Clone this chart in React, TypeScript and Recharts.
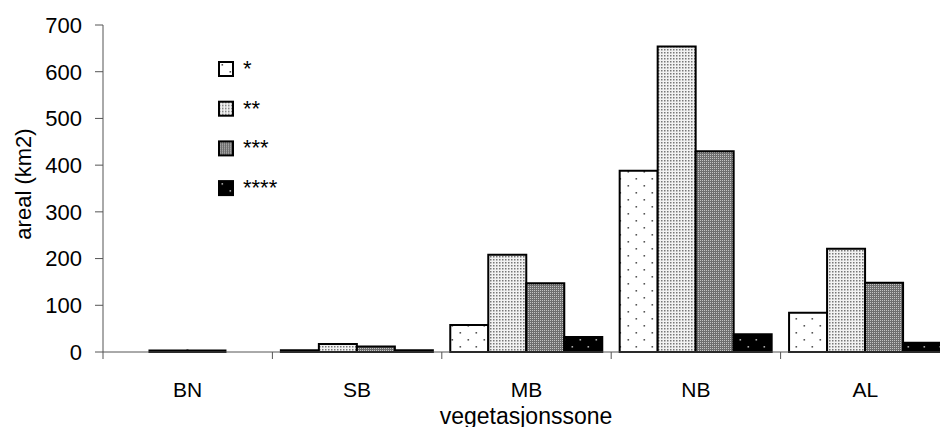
import { BarChart, Bar, XAxis, YAxis } from 'recharts';

const categories = ['BN', 'SB', 'MB', 'NB', 'AL'];
const seriesNames = ['*', '**', '***', '****'];
const oneStar = [0, 4, 58, 388, 84];
const twoStars = [3, 17, 208, 654, 221];
const threeStars = [3, 12, 147, 430, 148];
const fourStars = [0, 4, 32, 38, 20];
const yTicks = [0, 100, 200, 300, 400, 500, 600, 700];

const patternIds = ['pat1', 'pat2', 'pat3', 'pat4'];

const chartData = categories.map((name, i) => ({
  name,
  s1: oneStar[i],
  s2: twoStars[i],
  s3: threeStars[i],
  s4: fourStars[i],
}));

const font = '"Liberation Sans", Arial, sans-serif';
const labelGap = 30;

function Patterns() {
  return (
    <svg width={0} height={0} style={{ position: 'absolute' }}>
      <defs>
        <pattern id="pat1" width={16} height={14} patternUnits="userSpaceOnUse">
          <rect width={16} height={14} fill="#ffffff" />
          <rect x={3.5} y={3} width={1.6} height={1.6} fill="#555555" />
          <rect x={11.5} y={10} width={1.6} height={1.6} fill="#555555" />
        </pattern>
        <pattern id="pat2" width={3} height={3} patternUnits="userSpaceOnUse">
          <rect width={3} height={3} fill="#f2f2f2" />
          <rect x={1} y={1} width={1.5} height={1.5} fill="#777777" />
        </pattern>
        <pattern id="pat3" width={2} height={2} patternUnits="userSpaceOnUse">
          <rect width={2} height={2} fill="#6e6e6e" />
          <rect x={0} y={0} width={1} height={1} fill="#c4c4c4" />
        </pattern>
        <pattern id="pat4" width={16} height={14} patternUnits="userSpaceOnUse">
          <rect width={16} height={14} fill="#000000" />
          <rect x={3.5} y={3} width={1.6} height={1.6} fill="#aaaaaa" />
          <rect x={11.5} y={10} width={1.6} height={1.6} fill="#aaaaaa" />
        </pattern>
      </defs>
    </svg>
  );
}

// category label plus the little tick marks at the category boundaries
function CategoryTick(props: any) {
  const { x, y, payload, index, width, visibleTicksCount } = props;
  const band = width && visibleTicksCount ? width / visibleTicksCount : 169.4;
  const axisY = y - labelGap;
  const last = index === visibleTicksCount - 1;
  return (
    <g>
      <line x1={x - band / 2} x2={x - band / 2} y1={axisY} y2={axisY + 7} stroke="#555" />
      {last && <line x1={x + band / 2} x2={x + band / 2} y1={axisY} y2={axisY + 7} stroke="#555" />}
      <text x={x} y={y} dy="0.71em" textAnchor="middle" fontSize={21} fontFamily={font} fill="#000">
        {payload.value}
      </text>
    </g>
  );
}

function LegendBox() {
  return (
    <svg width={100} height={180} style={{ position: 'absolute', left: 208, top: 51 }}>
      {seriesNames.map((name, i) => (
        <g key={name} transform={`translate(10, ${10 + i * 39.7})`}>
          <rect x={1} y={1} width={14} height={14} fill={`url(#${patternIds[i]})`} stroke="#000" strokeWidth={2} />
          <text x={25} y={15} fontSize={22} fontFamily={font} fill="#000">
            {name}
          </text>
        </g>
      ))}
    </svg>
  );
}

function YTitle() {
  return (
    <text
      x={23}
      y={184}
      transform="rotate(-90, 23, 184)"
      textAnchor="middle"
      dominantBaseline="central"
      fontSize={22}
      fontFamily={font}
      fill="#000"
    >
      areal (km2)
    </text>
  );
}

function XTitle() {
  return (
    <text x={526} y={424} textAnchor="middle" fontSize={23} fontFamily={font} fill="#000">
      vegetasjonssone
    </text>
  );
}

export default function App() {
  return (
    <div style={{ position: 'absolute', left: 0, top: 0, width: 940, height: 427, overflow: 'hidden', background: '#fff' }}>
      <Patterns />
      <BarChart
        width={952}
        height={427}
        data={chartData}
        margin={{ top: 25, right: 2, left: 0, bottom: 74 }}
        barCategoryGap="5%"
        barGap={0}
      >
        <XAxis
          dataKey="name"
          tickLine={false}
          tickSize={0}
          tickMargin={labelGap}
          height={1}
          interval={0}
          stroke="#555"
          tick={<CategoryTick />}
          label={<XTitle />}
        />
        <YAxis
          domain={[0, 700]}
          ticks={yTicks}
          interval={0}
          width={103}
          tickSize={8}
          tickMargin={13}
          stroke="#555"
          tick={{ fill: '#000', fontSize: 22, fontFamily: font }}
          label={<YTitle />}
        />
        <Bar dataKey="s1" name="*" fill="url(#pat1)" stroke="#000" strokeWidth={2} isAnimationActive={false} />
        <Bar dataKey="s2" name="**" fill="url(#pat2)" stroke="#000" strokeWidth={2} isAnimationActive={false} />
        <Bar dataKey="s3" name="***" fill="url(#pat3)" stroke="#000" strokeWidth={2} isAnimationActive={false} />
        <Bar dataKey="s4" name="****" fill="url(#pat4)" stroke="#000" strokeWidth={2} isAnimationActive={false} />
      </BarChart>
      <LegendBox />
    </div>
  );
}
